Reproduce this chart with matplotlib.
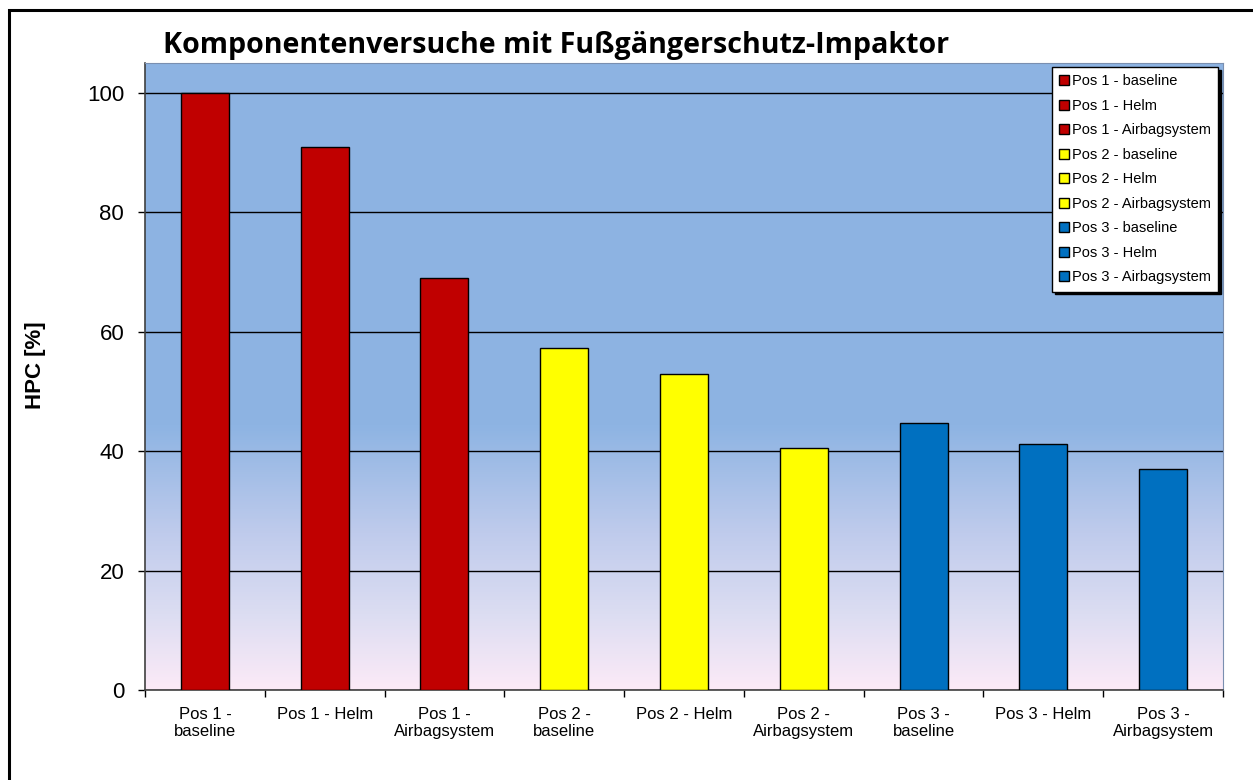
import matplotlib.pyplot as plt
import numpy as np
from matplotlib.colors import LinearSegmentedColormap
from matplotlib.patches import Rectangle

# data
labels = ["Pos 1 - baseline", "Pos 1 - Helm", "Pos 1 - Airbagsystem",
          "Pos 2 - baseline", "Pos 2 - Helm", "Pos 2 - Airbagsystem",
          "Pos 3 - baseline", "Pos 3 - Helm", "Pos 3 - Airbagsystem"]
tick_labels = ["Pos 1 -\nbaseline", "Pos 1 - Helm", "Pos 1 -\nAirbagsystem",
               "Pos 2 -\nbaseline", "Pos 2 - Helm", "Pos 2 -\nAirbagsystem",
               "Pos 3 -\nbaseline", "Pos 3 - Helm", "Pos 3 -\nAirbagsystem"]
hpc = [100, 91, 69, 57.3, 53, 40.6, 44.7, 41.2, 37.0]
colors = ["#C00000"] * 3 + ["#FFFF00"] * 3 + ["#0070C0"] * 3

W, H = 1253, 780
fig = plt.figure(figsize=(W / 100, H / 100), dpi=100)
plt.rcParams['font.family'] = ['Liberation Sans', 'DejaVu Sans']

# outer frame (right and bottom run off the image)
fig.add_artist(Rectangle((8.5 / W, -0.1), 1.2, 1.1 - 10.5 / H, transform=fig.transFigure,
                         fill=False, edgecolor="black", linewidth=2.2))

ax = fig.add_axes([145 / W, 1 - 690 / H, 1078 / W, 627 / H])

# background gradient of the plot area
cmap = LinearSegmentedColormap.from_list("bg", [
    (0.0, "#FCEAF7"), (0.12, "#DCDDF2"), (0.25, "#BFCBEC"),
    (0.42, "#8EB4E3"), (1.0, "#8DB3E2")])
grad = np.linspace(0, 1, 256).reshape(-1, 1)
ax.imshow(grad, cmap=cmap, origin="lower", aspect="auto",
          extent=[0, 1, 0, 1], transform=ax.transAxes, zorder=0)

x = np.arange(len(hpc))
bars = ax.bar(x, hpc, width=0.4, color=colors, edgecolor="black",
              linewidth=1.0, zorder=3, label=labels)

ax.set_xlim(-0.5, len(hpc) - 0.5)
ax.set_ylim(0, 105)
ax.set_yticks([0, 20, 40, 60, 80, 100])
ax.grid(axis="y", color="black", linewidth=1.0, zorder=1)
ax.set_axisbelow(True)

ax.set_xticks(x)
ax.set_xticklabels(tick_labels, fontsize=12)
ax.set_xticks(np.arange(-0.5, len(hpc)), minor=True)
ax.tick_params(axis="x", which="major", length=0, pad=12)
ax.tick_params(axis="x", which="minor", length=5, width=1, direction="out")
ax.tick_params(axis="y", labelsize=16, length=5, width=1, pad=10)

for s in ["left", "bottom"]:
    ax.spines[s].set_color("#404040")
    ax.spines[s].set_linewidth(1.2)
for s in ["top", "right"]:
    ax.spines[s].set_color("#7A8FB0")
    ax.spines[s].set_linewidth(0.8)

leg = ax.legend(handles=list(bars), labels=labels, loc="upper right",
                bbox_to_anchor=(0.9955, 0.9936), borderaxespad=0,
                fontsize=10.5, frameon=True,
                fancybox=False, edgecolor="black", framealpha=1,
                handlelength=0.65, handleheight=0.65, handletextpad=0.2,
                labelspacing=0.72, borderpad=0.5,
                shadow={"color": "black", "alpha": 1})
leg.get_frame().set_linewidth(1.0)
leg.set_zorder(10)

fig.text(163 / W, 1 - 46 / H, "Komponentenversuche mit Fußgängerschutz-Impaktor",
         fontsize=20.6, fontweight="bold", family=["Open Sans", "DejaVu Sans"],
         ha="left", va="center")
fig.text(35 / W, 1 - 365 / H, "HPC [%]", fontsize=16, fontweight="bold",
         rotation=90, ha="center", va="center")

fig.savefig("out.png", dpi=100)
